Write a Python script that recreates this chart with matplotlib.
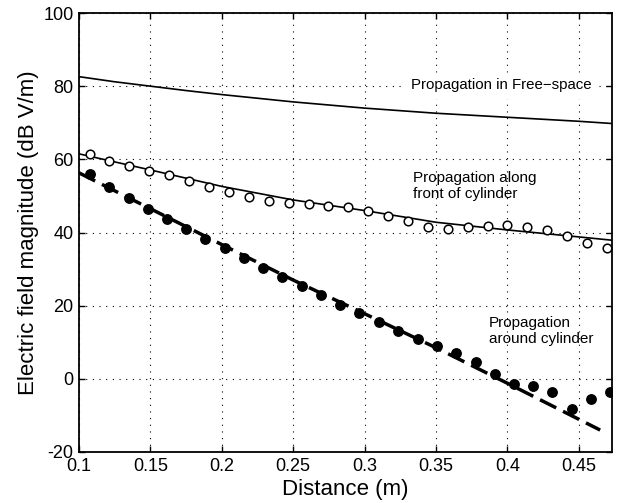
import matplotlib
matplotlib.use("Agg")
import matplotlib.pyplot as plt

plt.rcParams['font.family'] = ['Liberation Sans', 'DejaVu Sans']
plt.rcParams['axes.unicode_minus'] = False

# Free-space propagation (solid curve)
free_x = [0.1, 0.125, 0.15, 0.175, 0.2, 0.25, 0.3, 0.35, 0.4, 0.45, 0.473]
free_y = [82.6, 81.2, 80.0, 78.8, 77.7, 75.7, 74.0, 72.6, 71.5, 70.4, 69.8]

# Front of cylinder - fitted curve (solid)
front_x = [0.1, 0.15, 0.2, 0.25, 0.3, 0.35, 0.4, 0.45, 0.473]
front_y = [61.5, 57.1, 52.6, 48.9, 46.0, 42.8, 40.7, 38.8, 37.9]

# Front of cylinder - measured (open circles)
open_x = [0.1077, 0.1212, 0.1352, 0.1492, 0.1632, 0.1772, 0.1912, 0.2052, 0.219,
          0.233, 0.247, 0.261, 0.2746, 0.2886, 0.3022, 0.3166, 0.3301, 0.3441,
          0.3582, 0.3722, 0.3862, 0.3999, 0.4135, 0.4275, 0.4415, 0.4555, 0.4695]
open_y = [61.5, 59.6, 58.2, 56.7, 55.6, 54.2, 52.5, 51.1, 49.6,
          48.5, 48.1, 47.8, 47.3, 46.9, 45.9, 44.6, 43.1, 41.5,
          41.0, 41.4, 41.8, 42.0, 41.6, 40.7, 39.0, 37.2, 35.8]

# Around cylinder - fitted line (dashed)
around_x = [0.1, 0.15, 0.2, 0.25, 0.3, 0.35, 0.4, 0.465]
around_y = [56.3, 46.5, 36.7, 27.0, 17.8, 8.5, -1.2, -14.0]

# Around cylinder - measured (filled circles)
filled_x = [0.1077, 0.1212, 0.135, 0.1483, 0.1614, 0.1749, 0.1884, 0.202, 0.2153,
            0.229, 0.2423, 0.2559, 0.2695, 0.2828, 0.2963, 0.3098, 0.3234, 0.3372,
            0.3505, 0.364, 0.3778, 0.3911, 0.4046, 0.4182, 0.4315, 0.4451, 0.4584, 0.4719]
filled_y = [55.9, 52.5, 49.5, 46.5, 43.8, 41.0, 38.2, 35.7, 33.1,
            30.4, 27.7, 25.3, 22.8, 20.3, 17.9, 15.4, 13.2, 11.0,
            9.0, 7.0, 4.7, 1.2, -1.4, -1.9, -3.5, -8.3, -5.6, -3.5]

xticks = [0.1, 0.15, 0.2, 0.25, 0.3, 0.35, 0.4, 0.45]
xtick_labels = ['0.1', '0.15', '0.2', '0.25', '0.3', '0.35', '0.4', '0.45']
yticks = [-20, 0, 20, 40, 60, 80, 100]

fig = plt.figure(figsize=(6.18, 5.03), dpi=100)
ax = fig.add_axes([79 / 618, 51 / 503, 533 / 618, 439 / 503])

# curves
ax.plot(free_x, free_y, color='black', linewidth=1.2)
ax.plot(front_x, front_y, color='black', linewidth=1.2)
ax.plot(around_x, around_y, color='black', linewidth=2.5, dashes=(5.2, 2.2))

# measured points
ax.plot(open_x, open_y, 'o', markersize=6.2, markerfacecolor='white',
        markeredgecolor='black', markeredgewidth=1.1)
ax.plot(filled_x, filled_y, 'o', markersize=6.8, color='black')

# annotations
ax.text(0.3325, 80.3, 'Propagation in Free\u2212space', fontsize=10.8,
        va='center', ha='left', backgroundcolor='white')
ax.text(0.334, 52.7, 'Propagation along\nfront of cylinder', fontsize=11,
        va='center', ha='left', linespacing=1.2)
ax.text(0.387, 13.1, 'Propagation\naround cylinder', fontsize=11,
        va='center', ha='left', linespacing=1.2)

ax.set_xlim(0.1, 0.4733)
ax.set_ylim(-20, 100)
ax.set_xticks(xticks)
ax.set_xticklabels(xtick_labels)
ax.set_yticks(yticks)

ax.grid(True, color='black', linestyle=(0, (1, 5)), linewidth=0.8)
ax.tick_params(direction='in', top=True, right=True, length=4, width=1,
               labelsize=13, pad=4)
for s in ax.spines.values():
    s.set_linewidth(1.3)

ax.set_xlabel('Distance (m)', fontsize=16, labelpad=3)
ax.set_ylabel('Electric field magnitude (dB V/m)', fontsize=16, labelpad=3)

fig.savefig('out.png', dpi=100)
